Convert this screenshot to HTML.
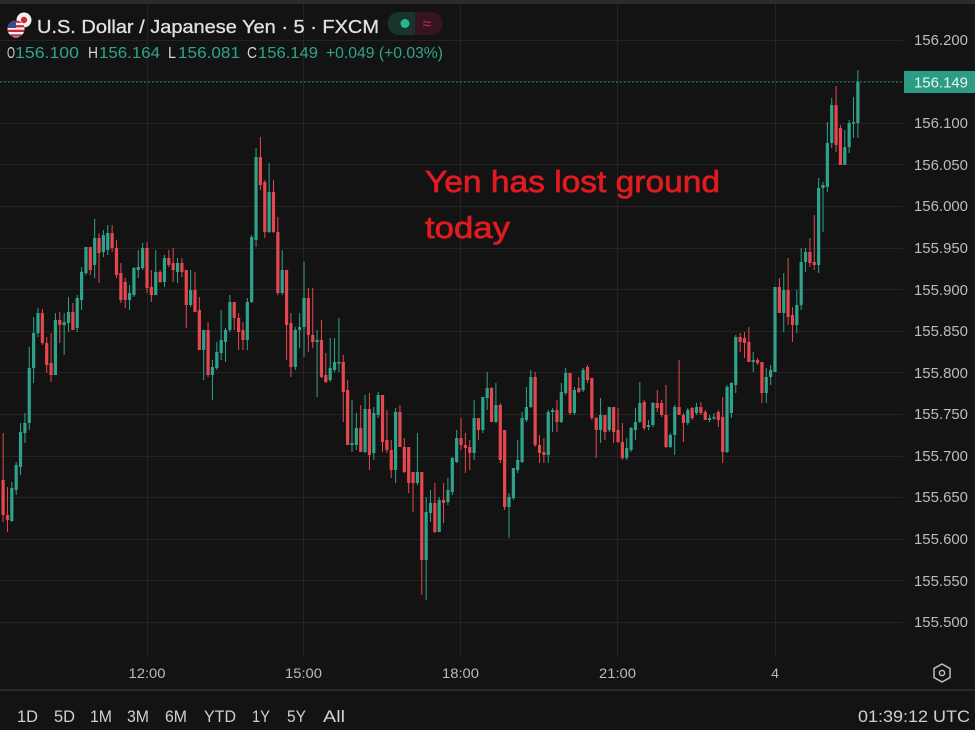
<!DOCTYPE html>
<html><head><meta charset="utf-8">
<style>
html,body{margin:0;padding:0;background:#131313;width:975px;height:730px;overflow:hidden}
svg{display:block}
text{font-family:"Liberation Sans",sans-serif}
</style></head><body>
<svg id="svg" width="975" height="730" viewBox="0 0 975 730" xmlns="http://www.w3.org/2000/svg">
<rect width="975" height="730" fill="#131313"/>
<rect width="975" height="4" fill="#2b2b2b"/>
<g stroke="#242424" stroke-width="1">
<line x1="0" x2="903" y1="40.5" y2="40.5"/>
<line x1="0" x2="903" y1="81.5" y2="81.5"/>
<line x1="0" x2="903" y1="123.5" y2="123.5"/>
<line x1="0" x2="903" y1="164.5" y2="164.5"/>
<line x1="0" x2="903" y1="206.5" y2="206.5"/>
<line x1="0" x2="903" y1="248.5" y2="248.5"/>
<line x1="0" x2="903" y1="289.5" y2="289.5"/>
<line x1="0" x2="903" y1="331.5" y2="331.5"/>
<line x1="0" x2="903" y1="372.5" y2="372.5"/>
<line x1="0" x2="903" y1="414.5" y2="414.5"/>
<line x1="0" x2="903" y1="456.5" y2="456.5"/>
<line x1="0" x2="903" y1="497.5" y2="497.5"/>
<line x1="0" x2="903" y1="539.5" y2="539.5"/>
<line x1="0" x2="903" y1="580.5" y2="580.5"/>
<line x1="0" x2="903" y1="622.5" y2="622.5"/>
<line x1="147.5" x2="147.5" y1="4" y2="656"/>
<line x1="303.5" x2="303.5" y1="4" y2="656"/>
<line x1="460.5" x2="460.5" y1="4" y2="656"/>
<line x1="617.5" x2="617.5" y1="4" y2="656"/>
<line x1="775.5" x2="775.5" y1="4" y2="656"/>
</g>
<g id="candles"></g>
<line x1="0" x2="904" y1="82" y2="82" stroke="#2a9d84" stroke-width="1" stroke-dasharray="1.5,2.5"/>

<!-- annotation -->
<text x="425" y="192" font-size="31" fill="#e01b1f" stroke="#e01b1f" stroke-width="0.7" textLength="295" lengthAdjust="spacingAndGlyphs">Yen has lost ground</text>
<text x="425" y="238" font-size="31" fill="#e01b1f" stroke="#e01b1f" stroke-width="0.7" textLength="85" lengthAdjust="spacingAndGlyphs">today</text>

<!-- price axis -->
<g font-size="15" fill="#bcbcbc">
<text x="914" y="45" textLength="54" lengthAdjust="spacingAndGlyphs">156.200</text>
<text x="914" y="128" textLength="54" lengthAdjust="spacingAndGlyphs">156.100</text>
<text x="914" y="170" textLength="54" lengthAdjust="spacingAndGlyphs">156.050</text>
<text x="914" y="211" textLength="54" lengthAdjust="spacingAndGlyphs">156.000</text>
<text x="914" y="253" textLength="54" lengthAdjust="spacingAndGlyphs">155.950</text>
<text x="914" y="295" textLength="54" lengthAdjust="spacingAndGlyphs">155.900</text>
<text x="914" y="336" textLength="54" lengthAdjust="spacingAndGlyphs">155.850</text>
<text x="914" y="378" textLength="54" lengthAdjust="spacingAndGlyphs">155.800</text>
<text x="914" y="419" textLength="54" lengthAdjust="spacingAndGlyphs">155.750</text>
<text x="914" y="461" textLength="54" lengthAdjust="spacingAndGlyphs">155.700</text>
<text x="914" y="502" textLength="54" lengthAdjust="spacingAndGlyphs">155.650</text>
<text x="914" y="544" textLength="54" lengthAdjust="spacingAndGlyphs">155.600</text>
<text x="914" y="586" textLength="54" lengthAdjust="spacingAndGlyphs">155.550</text>
<text x="914" y="627" textLength="54" lengthAdjust="spacingAndGlyphs">155.500</text>
</g>
<rect x="904" y="71" width="71" height="22" fill="#2a9d84"/>
<text x="914" y="87.5" font-size="15" fill="#f0f0f0" textLength="54" lengthAdjust="spacingAndGlyphs">156.149</text>

<!-- time axis -->
<g font-size="14" fill="#bcbcbc" text-anchor="middle">
<text x="147" y="678" textLength="37" lengthAdjust="spacingAndGlyphs">12:00</text>
<text x="303.5" y="678" textLength="37" lengthAdjust="spacingAndGlyphs">15:00</text>
<text x="460.5" y="678" textLength="37" lengthAdjust="spacingAndGlyphs">18:00</text>
<text x="617.5" y="678" textLength="37" lengthAdjust="spacingAndGlyphs">21:00</text>
<text x="775" y="678">4</text>
</g>
<polygon points="942,664 950,668.5 950,677.5 942,682 934,677.5 934,668.5" fill="none" stroke="#c0c0c0" stroke-width="1.5"/>
<circle cx="942" cy="673" r="2.6" fill="none" stroke="#c0c0c0" stroke-width="1.4"/>

<rect x="0" y="689" width="975" height="2" fill="#2a2a2a"/>

<!-- bottom toolbar -->
<g font-size="17" fill="#d0d0d0">
<text x="17" y="722" textLength="21" lengthAdjust="spacingAndGlyphs">1D</text>
<text x="54" y="722" textLength="21" lengthAdjust="spacingAndGlyphs">5D</text>
<text x="90" y="722" textLength="22" lengthAdjust="spacingAndGlyphs">1M</text>
<text x="127" y="722" textLength="22" lengthAdjust="spacingAndGlyphs">3M</text>
<text x="165" y="722" textLength="22" lengthAdjust="spacingAndGlyphs">6M</text>
<text x="204" y="722" textLength="32" lengthAdjust="spacingAndGlyphs">YTD</text>
<text x="252" y="722" textLength="18" lengthAdjust="spacingAndGlyphs">1Y</text>
<text x="287" y="722" textLength="19" lengthAdjust="spacingAndGlyphs">5Y</text>
<text x="323" y="722" textLength="22" lengthAdjust="spacingAndGlyphs">All</text>
<text x="858" y="722" textLength="112" lengthAdjust="spacingAndGlyphs">01:39:12 UTC</text>
</g>

<!-- header -->
<circle cx="24" cy="20" r="7.5" fill="#f2f2f2"/>
<circle cx="24" cy="20" r="3.2" fill="#d0283a"/>
<clipPath id="us"><circle cx="16" cy="29" r="8.5"/></clipPath>
<g clip-path="url(#us)">
<rect x="7" y="20" width="18" height="18" fill="#f2f2f2"/>
<rect x="7" y="20.5" width="18" height="2.3" fill="#c8283a"/>
<rect x="7" y="25.1" width="18" height="2.3" fill="#c8283a"/>
<rect x="7" y="29.7" width="18" height="2.3" fill="#c8283a"/>
<rect x="7" y="34.3" width="18" height="2.3" fill="#c8283a"/>
<rect x="7" y="20" width="9" height="8" fill="#3c4a8c"/>
</g>
<text x="37" y="33" font-size="18" fill="#e0e0e0" stroke="#e0e0e0" stroke-width="0.3" textLength="342" lengthAdjust="spacingAndGlyphs">U.S. Dollar / Japanese Yen · 5 · FXCM</text>
<path d="M399,12 h16 v23 h-16 a11.5,11.5 0 0 1 0,-23 z" fill="#18352d"/>
<path d="M415,12 h16 a11.5,11.5 0 0 1 0,23 h-16 z" fill="#35161f"/>
<circle cx="405" cy="23.5" r="4.5" fill="#2bb58f"/>
<text x="427" y="29" font-size="16" fill="#c2255c" text-anchor="middle">≈</text>

<g font-size="16">
<text x="7" y="58" fill="#d6d6d6" textLength="8" lengthAdjust="spacingAndGlyphs">O</text>
<text x="15" y="58" fill="#2fa58b" textLength="64" lengthAdjust="spacingAndGlyphs">156.100</text>
<text x="88" y="58" fill="#d6d6d6" textLength="10" lengthAdjust="spacingAndGlyphs">H</text>
<text x="99" y="58" fill="#2fa58b" textLength="61" lengthAdjust="spacingAndGlyphs">156.164</text>
<text x="168" y="58" fill="#d6d6d6" textLength="8" lengthAdjust="spacingAndGlyphs">L</text>
<text x="178" y="58" fill="#2fa58b" textLength="62" lengthAdjust="spacingAndGlyphs">156.081</text>
<text x="247" y="58" fill="#d6d6d6" textLength="10" lengthAdjust="spacingAndGlyphs">C</text>
<text x="258" y="58" fill="#2fa58b" textLength="60" lengthAdjust="spacingAndGlyphs">156.149</text>
<text x="326" y="58" fill="#2fa58b" textLength="117" lengthAdjust="spacingAndGlyphs">+0.049 (+0.03%)</text>
</g>
</svg>
<script>
var d=[
[0,480,515,433,522],[0,515,520,487,532],[1,488,521,482,522],[1,465,490,462,495],[1,432,467,423,475],[1,423,433,413,443],[1,368,423,347,430],[1,333,368,317,383],[1,313,333,308,337],[0,313,343,309,345],
[0,343,365,337,373],[0,363,375,333,382],[1,320,375,313,375],[0,320,325,312,343],[1,322,325,313,355],[1,312,323,297,332],[0,312,330,303,330],[1,298,328,295,332],[1,272,300,267,310],[1,247,273,247,275],
[0,247,270,247,275],[1,238,265,219,278],[0,238,253,233,283],[1,235,252,230,257],[1,233,250,225,255],[0,233,248,225,252],[0,248,275,240,278],[0,273,300,263,303],[0,282,300,278,308],[1,293,300,285,310],
[1,268,295,267,297],[1,267,270,250,278],[1,248,268,243,270],[0,248,288,242,293],
[0,287,295,270,302],[1,272,295,250,295],[0,272,282,270,283],[1,258,282,255,287],[0,258,265,250,267],[0,263,270,248,282],[1,263,272,258,283],[0,263,272,258,277],[0,270,305,270,328],[1,290,305,270,307],
[0,290,312,272,312],[0,310,350,297,350],[1,330,350,330,380],[0,330,375,322,377],[1,367,375,360,400],[1,352,368,342,370],[1,340,353,310,360],[1,330,342,328,362],[1,302,330,295,332],[0,302,318,302,330],
[0,318,332,313,350],[0,330,340,322,350],[1,302,340,298,350],[1,237,302,235,303],[1,157,240,148,247],[0,157,185,137,190],[0,182,232,180,238],[1,192,232,163,233],[0,192,232,180,233],[0,232,293,217,295],
[1,270,293,250,295],[0,270,325,270,360],[0,323,367,313,377],
[1,330,367,327,370],[1,327,330,313,348],[1,298,327,262,357],[0,298,335,288,352],[0,335,342,288,348],[1,340,342,330,397],[0,340,377,320,378],[0,375,382,353,383],[1,368,380,338,382],[1,362,370,338,372],
[1,362,363,318,372],[0,362,392,355,422],[0,390,445,380,445],[1,443,445,400,452],[1,428,445,413,450],[0,428,452,405,452],[1,409,452,395,453],[0,409,455,393,470],[1,413,453,407,460],[1,395,415,392,418],
[0,395,442,395,452],[0,440,450,410,453],[0,450,470,440,478],[1,412,470,408,483],[0,412,447,405,447],[0,447,472,438,473],[0,447,483,447,493],[0,472,483,472,512],[1,472,483,433,485],[0,472,560,472,595],
[1,512,560,497,600],[1,503,513,490,522],[0,503,532,483,533],
[1,500,532,497,532],[0,500,503,483,523],[1,490,502,478,505],[1,458,492,457,495],[1,438,462,430,463],[0,438,445,418,450],[0,445,448,433,473],[0,447,453,440,470],[1,418,453,400,460],[0,418,430,418,440],
[1,397,430,397,433],[1,388,398,372,410],[0,388,422,387,422],[1,405,422,383,423],[0,405,460,403,463],[0,430,507,430,510],[1,497,507,493,538],[1,468,498,468,500],[1,460,470,440,473],[1,418,462,412,463],
[1,407,420,387,422],[1,377,407,370,408],[0,377,445,372,447],[0,445,453,435,463],[0,452,455,438,463],[1,412,455,410,463],[1,410,412,408,432],[0,410,422,400,432],[1,392,422,383,423],[1,373,393,368,395],
[0,373,413,373,415],[1,390,413,387,415],[0,388,392,377,393],[1,370,390,368,392],
[0,367,380,365,383],[0,378,418,378,420],[0,418,430,417,458],[1,415,430,398,443],[0,415,432,415,440],[1,407,430,407,432],[0,407,432,407,443],[0,430,442,408,443],[0,442,458,423,460],[1,448,458,438,460],
[1,428,450,427,452],[1,422,430,408,440],[1,403,422,382,423],[0,402,428,400,430],[1,425,427,420,430],[1,403,425,402,427],[0,403,408,390,412],[0,403,415,400,417],[0,415,447,385,448],[1,435,447,433,448],
[1,407,435,405,455],[0,407,415,360,415],[0,415,423,413,442],[1,410,423,408,425],[0,408,418,407,420],[1,407,413,403,415],[0,407,413,402,415],[0,412,420,410,420],[1,418,420,415,422],[1,417,418,413,420],
[0,412,420,410,427],[0,417,452,397,463],[1,387,452,385,453],
[1,383,413,382,418],[1,337,385,335,393],[0,337,342,333,352],[0,338,343,332,358],[0,342,362,327,362],[1,360,362,352,372],[0,360,363,358,365],[0,362,393,362,403],[1,377,393,368,403],[1,370,377,365,385],
[1,287,372,287,372],[0,287,313,278,313],[1,290,313,273,332],[0,290,317,258,325],[0,315,325,307,342],[1,305,325,290,333],[1,262,305,248,310],[1,252,262,248,272],[0,252,263,238,267],[0,262,265,215,270],
[1,188,265,178,273],[1,185,188,182,232],[1,143,187,122,192],[1,105,143,98,148],[0,105,145,86,152],[0,128,165,125,165],[1,147,165,130,165],[1,123,147,120,153],[1,122,123,97,138],[1,82,123,70,138]
];
var NS="http://www.w3.org/2000/svg";
var g=document.getElementById("candles");
for(var i=0;i<d.length;i++){
  var c=d[i],x=3.1+i*4.3611,col=c[0]?"#2fa28a":"#e5474f";
  var w=document.createElementNS(NS,"rect");
  w.setAttribute("x",(x-0.5).toFixed(2));w.setAttribute("y",c[3]);
  w.setAttribute("width","1");w.setAttribute("height",Math.max(1,c[4]-c[3]));
  w.setAttribute("fill",col);g.appendChild(w);
  var b=document.createElementNS(NS,"rect");
  b.setAttribute("x",(x-1.6).toFixed(2));b.setAttribute("y",c[1]);
  b.setAttribute("width","3.2");b.setAttribute("height",Math.max(1.5,c[2]-c[1]));
  b.setAttribute("fill",col);g.appendChild(b);
}
</script>
</body></html>
